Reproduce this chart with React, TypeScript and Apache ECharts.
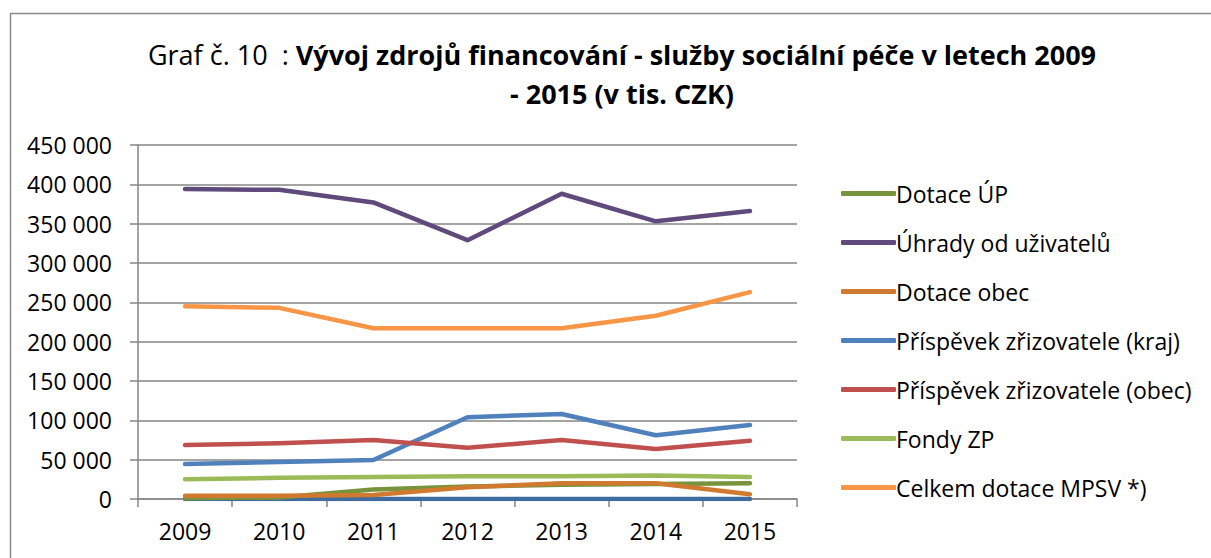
import React, { useEffect, useRef } from "react";
import * as echarts from "echarts";

const years = ["2009", "2010", "2011", "2012", "2013", "2014", "2015"];
const dotaceUP = [1000, 2000, 12000, 16000, 18000, 19000, 20000];
const uhrady = [394000, 393000, 377000, 329000, 388000, 353000, 366000];
const dotaceObec = [4000, 4000, 5000, 15000, 20000, 20000, 6000];
const prispevekKraj = [44500, 47000, 49500, 104000, 108000, 81000, 94000];
const prispevekObec = [68500, 71000, 75000, 65000, 75000, 63500, 74000];
const fondyZP = [25000, 27000, 28000, 29000, 29000, 30000, 28000];
const celkemMPSV = [245000, 243000, 217000, 217000, 217000, 233000, 263000];
const ostatni = [0, 0, 0, 0, 0, 0, 0];
const yTicks = [0, 50000, 100000, 150000, 200000, 250000, 300000, 350000, 400000, 450000];

const FONT = "'Open Sans', sans-serif";

export default function App() {
  const ref = useRef<HTMLDivElement>(null);
  useEffect(() => {
    if (!ref.current) return;
    const chart = echarts.init(ref.current, undefined, { renderer: "svg" });
    const mk = (name: string, data: number[], color: string) => ({
      name,
      type: "line",
      data,
      symbol: "none",
      lineStyle: { width: 4.5, color, cap: "round", join: "round" },
      itemStyle: { color },
    });
    const series = [
      mk("Ostatní", ostatni, "#3F6B9E"),
      mk("Dotace ÚP", dotaceUP, "#77933C"),
      mk("Úhrady od uživatelů", uhrady, "#604A7B"),
      mk("Dotace obec", dotaceObec, "#D07A30"),
      mk("Příspěvek zřizovatele (kraj)", prispevekKraj, "#4F81BD"),
      mk("Příspěvek zřizovatele (obec)", prispevekObec, "#C0504D"),
      mk("Fondy ZP", fondyZP, "#9BBB59"),
      mk("Celkem dotace MPSV *)", celkemMPSV, "#F79646"),
    ];
    chart.setOption({
      animation: false,
      backgroundColor: "#ffffff",
      textStyle: { fontFamily: FONT },
      title: {
        text:
          "{n|Graf č. 10  : }{b|Vývoj zdrojů financování - služby sociální péče v letech 2009}\n{b|- 2015 (v tis. CZK)}",
        left: 617,
        textAlign: "center",
        top: 30,
        textStyle: {
          fontWeight: "normal",
          rich: {
            n: { fontSize: 27, fontWeight: "normal", fontFamily: FONT, color: "#000", lineHeight: 39 },
            b: { fontSize: 27, fontWeight: "bold", fontFamily: FONT, color: "#000", lineHeight: 39 },
          },
        },
      },
      legend: {
        orient: "vertical",
        left: 836,
        top: 175,
        itemWidth: 55,
        itemHeight: 5,
        itemGap: 22,
        icon: "roundRect",
        data: series.slice(1).map((s) => s.name),
        textStyle: { fontSize: 23, fontFamily: FONT, color: "#000", padding: [0, 0, 0, -5], lineHeight: 27 },
      },
      grid: { left: 138, right: 414, top: 145, bottom: 59, containLabel: false },
      xAxis: {
        type: "category",
        data: years,
        boundaryGap: true,
        axisLine: { lineStyle: { color: "#868686", width: 1.5 } },
        axisTick: { show: true, length: 8, alignWithLabel: false, lineStyle: { color: "#868686", width: 1.5 } },
        axisLabel: { fontSize: 23, color: "#000", margin: 20, fontFamily: FONT },
      },
      yAxis: {
        type: "value",
        min: 0,
        max: 450000,
        interval: 50000,
        axisLine: { show: true, lineStyle: { color: "#868686", width: 1.5 } },
        axisTick: { show: true, length: 8, lineStyle: { color: "#868686", width: 1.5 } },
        splitLine: { lineStyle: { color: "#868686", width: 1.5 } },
        axisLabel: {
          fontSize: 23,
          color: "#000",
          margin: 26,
          fontFamily: FONT,
          formatter: (v: number) =>
            yTicks.includes(v) ? String(v).replace(/\B(?=(\d{3})+(?!\d))/g, " ") : "",
        },
      },
      graphic: [
        {
          type: "polyline",
          shape: { points: [[10.5, 600], [10.5, 13.5], [1300, 13.5]] },
          style: { stroke: "#8a8a8a", lineWidth: 1.5, fill: "none" },
          silent: true,
        },
      ],
      series,
    });
    return () => chart.dispose();
  }, []);
  return (
    <div
      ref={ref}
      style={{ position: "fixed", left: 0, top: 0, width: 1211, height: 558 }}
    />
  );
}
